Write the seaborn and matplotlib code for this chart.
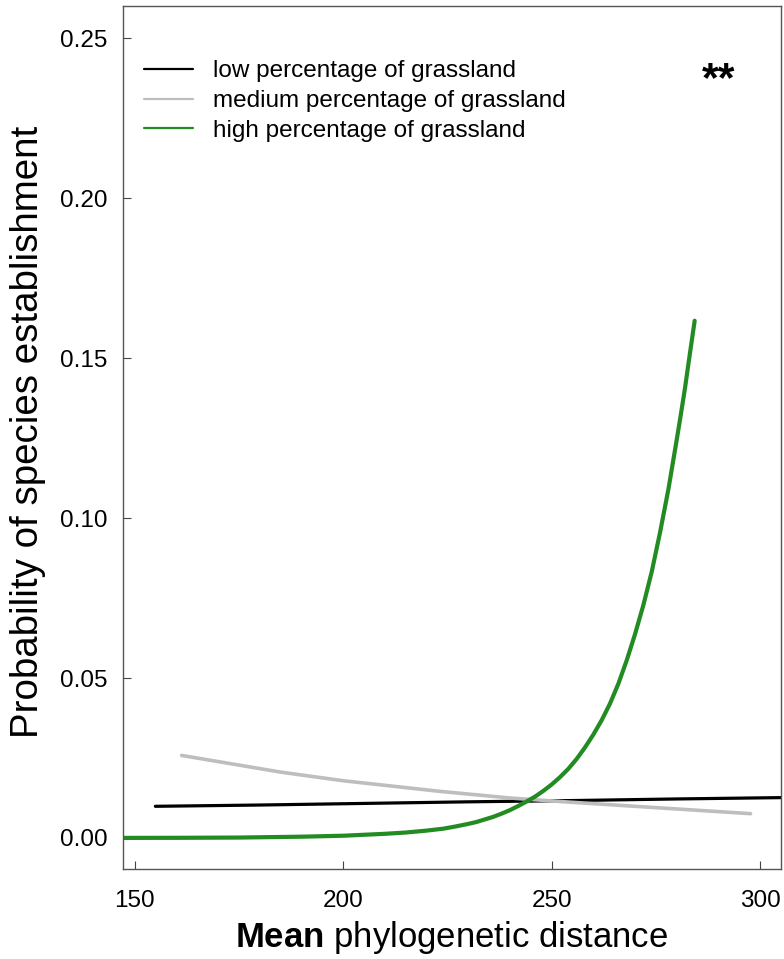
import matplotlib
matplotlib.use("Agg")
import matplotlib.pyplot as plt
from matplotlib.lines import Line2D
import seaborn as sns
import pandas as pd

# ---- data ----
low_x = [155, 180, 205, 230, 255, 280, 310]
low_y = [0.0099, 0.0103, 0.0108, 0.0113, 0.0117, 0.0122, 0.0127]

med_x = [161.3, 185, 200, 223, 240, 252, 276, 297.7]
med_y = [0.0258, 0.0206, 0.0179, 0.0146, 0.0125, 0.0114, 0.0094, 0.0076]

high_x = [147, 160, 175, 190, 200, 205, 210, 215, 220, 224, 227, 230, 232,
          234, 236, 238, 240, 242, 244, 246, 248, 250, 252, 254, 256, 258,
          260, 262, 264, 266, 268, 270, 272, 274, 276, 278, 280, 281, 282,
          283, 284.3]
high_y = [0.00002, 0.00005, 0.00013, 0.0004, 0.0007, 0.0010, 0.0013, 0.0017,
          0.0023, 0.0029, 0.0036, 0.0044, 0.0050, 0.0058, 0.0066, 0.0076,
          0.0087, 0.0100, 0.0114, 0.0129, 0.0147, 0.0167, 0.0190, 0.0216,
          0.0247, 0.0283, 0.0323, 0.0368, 0.0420, 0.0482, 0.0555, 0.0637,
          0.0728, 0.0832, 0.0955, 0.1090, 0.1245, 0.1325, 0.1408, 0.1500,
          0.1617]

labels = ["low percentage of grassland",
          "medium percentage of grassland",
          "high percentage of grassland"]
colors = ["#000000", "#BEBEBE", "#228B22"]
x_ticks = [150, 200, 250, 300]
y_ticks = [0.00, 0.05, 0.10, 0.15, 0.20, 0.25]

df = pd.concat([
    pd.DataFrame({"x": low_x, "y": low_y, "group": labels[0]}),
    pd.DataFrame({"x": med_x, "y": med_y, "group": labels[1]}),
    pd.DataFrame({"x": high_x, "y": high_y, "group": labels[2]}),
], ignore_index=True)

sns.set_theme(style="ticks")
plt.rcParams["font.family"] = ["Liberation Sans", "DejaVu Sans"]
plt.rcParams["mathtext.fontset"] = "custom"
plt.rcParams["mathtext.rm"] = "Liberation Sans"
plt.rcParams["mathtext.bf"] = "Liberation Sans:bold"
plt.rcParams["text.color"] = "black"
plt.rcParams["axes.labelcolor"] = "black"

fig = plt.figure(figsize=(7.84, 9.59), dpi=100)
ax = fig.add_axes([123 / 784, 90 / 959, 658 / 784, 863 / 959])

widths = [2.3, 2.6, 3.0]
for lab, col, lw in zip(labels, colors, widths):
    sns.lineplot(data=df[df["group"] == lab], x="x", y="y", color=col,
                 linewidth=lw, ax=ax, legend=False, sort=False,
                 solid_capstyle="round", solid_joinstyle="round")

ax.set_xlim(147.24, 305.0)
ax.set_ylim(-0.0097, 0.2601)
ax.set_xticks(x_ticks)
ax.set_xticklabels([str(t) for t in x_ticks])
ax.set_yticks(y_ticks)
ax.set_yticklabels([f"{t:.2f}" for t in y_ticks])

ax.tick_params(axis="both", direction="in", length=6, width=0.8,
               color="#444444", labelsize=17.5, labelcolor="black")
ax.tick_params(axis="x", pad=15)
ax.tick_params(axis="y", pad=11)
for sp in ax.spines.values():
    sp.set_visible(True)
    sp.set_color("#555555")
    sp.set_linewidth(1.0)

ax.set_xlabel(r"$\bf{Mean}$ phylogenetic distance", fontsize=25, va="center")
ax.xaxis.set_label_coords(0.5, -0.0788)
ax.set_ylabel("Probability of species establishment", fontsize=27.7,
              va="center")
ax.yaxis.set_label_coords(-0.144, 0.507)

handles = [Line2D([0], [0], color=c, lw=1.6) for c in colors]
leg = ax.legend(handles, labels, loc="upper left",
                bbox_to_anchor=(0.032, 0.937), frameon=False,
                fontsize=17.5, handlelength=2.0, handletextpad=0.85,
                labelspacing=0.32, borderpad=0, borderaxespad=0)
for t in leg.get_texts():
    t.set_color("black")

ax.text(290.0, 0.2336, "**", fontsize=31, fontweight="bold",
        ha="center", va="baseline", color="black")

fig.savefig("out.png", dpi=100, facecolor="white")
